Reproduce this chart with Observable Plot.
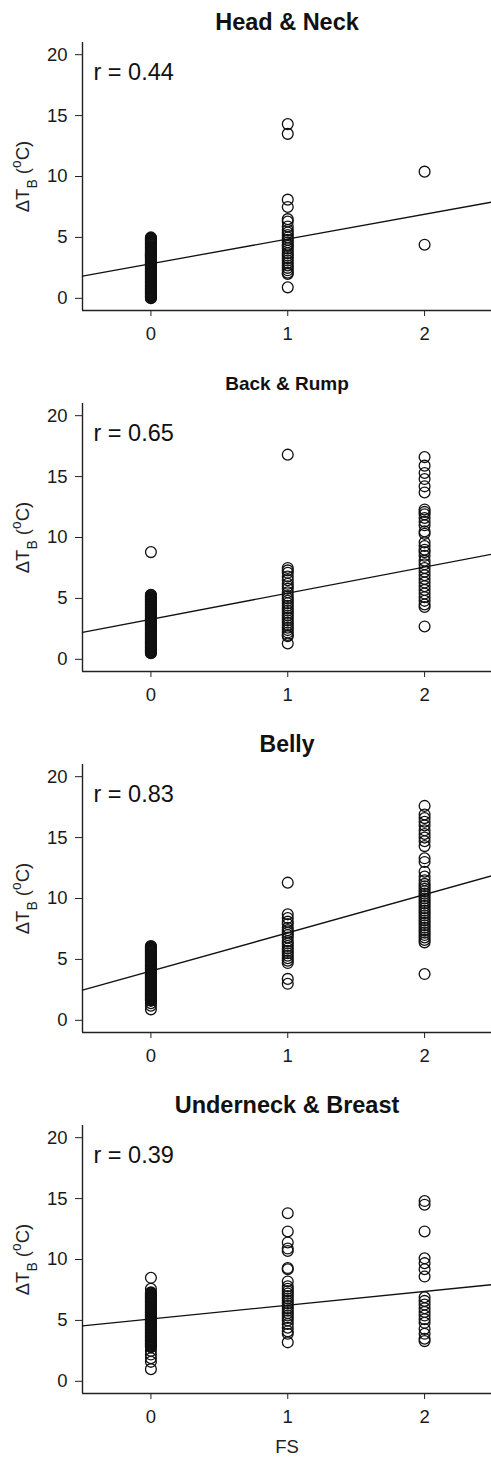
<!DOCTYPE html>
<html>
<head>
<meta charset="utf-8">
<script src="https://cdn.jsdelivr.net/npm/d3@7"></script>
<script src="https://cdn.jsdelivr.net/npm/@observablehq/plot@0.6"></script>
<style>
  body { margin: 0; background: #fff; }
  #chart svg { display: block; }
</style>
</head>
<body>
<div id="chart"></div>
<script>
// ---------- data ----------
const panelTitles = ["Head & Neck", "Back & Rump", "Belly", "Underneck & Breast"];
const rValues = ["0.44", "0.65", "0.83", "0.39"];
const xTicks = [0, 1, 2];
const yTicks = [0, 5, 10, 15, 20];
const xLabel = "FS";
const yLabel = "ΔTB (oC)";
const fitIntercepts = [2.84, 3.29, 4.04, 5.12];
const fitSlopes = [2.03, 2.14, 3.14, 1.13];

// Head & Neck, ΔTB values by FS level
const headNeck0 = [0,0.05,0.1,0.15,0.2,0.25,0.3,0.35,0.4,0.45,0.5,0.55,0.6,0.65,0.7,0.75,0.8,0.85,0.9,0.95,1,1.05,1.1,1.15,1.2,1.25,1.3,1.35,1.4,1.45,1.5,1.55,1.6,1.65,1.7,1.75,1.8,1.85,1.9,1.95,2,2.05,2.1,2.15,2.2,2.25,2.3,2.35,2.4,2.45,2.5,2.55,2.6,2.65,2.7,2.75,2.8,2.85,2.9,2.95,3,3.05,3.1,3.15,3.2,3.25,3.3,3.35,3.4,3.45,3.5,3.55,3.6,3.65,3.7,3.75,3.8,3.85,3.9,3.95,4,4.05,4.1,4.15,4.2,4.25,4.3,4.35,4.4,4.45,4.5,4.55,4.6,4.65,4.7,4.75,4.8,4.85,4.9,4.95,5];
const headNeck1 = [14.3,13.5,8.1,7.5,6.5,6.3,5.9,5.6,5.4,5.2,5.0,4.8,4.6,4.4,4.3,4.1,3.9,3.7,3.5,3.3,3.1,2.9,2.7,2.5,2.3,2.1,2.0,0.9];
const headNeck2 = [10.4,4.4];

// Back & Rump
const backRump0 = [0.5,0.55,0.6,0.65,0.7,0.75,0.8,0.85,0.9,0.95,1,1.05,1.1,1.15,1.2,1.25,1.3,1.35,1.4,1.45,1.5,1.55,1.6,1.65,1.7,1.75,1.8,1.85,1.9,1.95,2,2.05,2.1,2.15,2.2,2.25,2.3,2.35,2.4,2.45,2.5,2.55,2.6,2.65,2.7,2.75,2.8,2.85,2.9,2.95,3,3.05,3.1,3.15,3.2,3.25,3.3,3.35,3.4,3.45,3.5,3.55,3.6,3.65,3.7,3.75,3.8,3.85,3.9,3.95,4,4.05,4.1,4.15,4.2,4.25,4.3,4.35,4.4,4.45,4.5,4.55,4.6,4.65,4.7,4.75,4.8,4.85,4.9,4.95,5,5.05,5.1,5.15,5.2,5.25,5.3,8.8];
const backRump1 = [16.8,7.5,7.3,7.1,6.8,6.5,6.2,6.0,5.8,5.5,5.2,5.0,4.8,4.6,4.4,4.2,4.0,3.8,3.6,3.4,3.2,3.0,2.8,2.6,2.4,2.2,2.0,1.9,1.3];
const backRump2 = [16.6,15.9,15.3,14.8,14.2,13.7,12.3,12.1,11.9,11.6,11.3,11.0,10.5,10.3,9.6,9.3,9.0,8.8,8.5,8.1,7.8,7.5,7.2,6.9,6.6,6.3,6.0,5.7,5.4,5.1,4.8,4.5,4.3,2.7];

// Belly
const belly0 = [0.9,1.2,1.4,1.6,1.65,1.7,1.75,1.8,1.85,1.9,1.95,2,2.05,2.1,2.15,2.2,2.25,2.3,2.35,2.4,2.45,2.5,2.55,2.6,2.65,2.7,2.75,2.8,2.85,2.9,2.95,3,3.05,3.1,3.15,3.2,3.25,3.3,3.35,3.4,3.45,3.5,3.55,3.6,3.65,3.7,3.75,3.8,3.85,3.9,3.95,4,4.05,4.1,4.15,4.2,4.25,4.3,4.35,4.4,4.45,4.5,4.55,4.6,4.65,4.7,4.75,4.8,4.85,4.9,4.95,5,5.05,5.1,5.15,5.2,5.25,5.3,5.35,5.4,5.45,5.5,5.55,5.6,5.65,5.7,5.75,5.8,5.85,5.9,5.95,6,6.05,6.1];
const belly1 = [11.3,8.7,8.4,8.1,7.9,7.6,7.4,7.2,7.0,6.8,6.5,6.3,6.1,5.9,5.7,5.5,5.3,5.1,4.9,4.7,3.4,3.0];
const belly2 = [17.6,16.9,16.6,16.3,16.0,15.6,15.3,15.0,14.7,14.3,13.3,13.0,12.2,11.8,11.5,11.2,11.0,10.8,10.6,10.4,10.2,10.0,9.8,9.6,9.4,9.2,9.0,8.8,8.6,8.4,8.2,8.0,7.8,7.6,7.4,7.2,7.0,6.8,6.6,6.4,3.8];

// Underneck & Breast
const underneck0 = [1.0,1.6,1.9,2.2,2.5,2.8,2.85,2.9,2.95,3,3.05,3.1,3.15,3.2,3.25,3.3,3.35,3.4,3.45,3.5,3.55,3.6,3.65,3.7,3.75,3.8,3.85,3.9,3.95,4,4.05,4.1,4.15,4.2,4.25,4.3,4.35,4.4,4.45,4.5,4.55,4.6,4.65,4.7,4.75,4.8,4.85,4.9,4.95,5,5.05,5.1,5.15,5.2,5.25,5.3,5.35,5.4,5.45,5.5,5.55,5.6,5.65,5.7,5.75,5.8,5.85,5.9,5.95,6,6.05,6.1,6.15,6.2,6.25,6.3,6.35,6.4,6.45,6.5,6.55,6.6,6.65,6.7,6.75,6.8,6.85,6.9,6.95,7,7.05,7.1,7.15,7.2,7.25,7.3,7.6,8.5];
const underneck1 = [13.8,12.3,11.4,10.9,10.7,9.3,9.2,8.2,7.8,7.6,7.4,7.2,7.0,6.8,6.6,6.4,6.2,6.0,5.8,5.6,5.4,5.2,5.0,4.7,4.4,4.1,3.9,3.2];
const underneck2 = [14.8,14.5,12.3,10.1,9.7,9.2,8.6,6.9,6.6,6.3,6.0,5.7,5.4,5.1,4.8,4.3,3.9,3.5,3.3];

const panelSeries = [
  [headNeck0, headNeck1, headNeck2],
  [backRump0, backRump1, backRump2],
  [belly0, belly1, belly2],
  [underneck0, underneck1, underneck2]
];

// ---------- style / layout config ----------
const titleSizes = [23.5, 19, 23, 23.5];
const font = "'Liberation Sans', Arial, Helvetica, sans-serif";
const xDomain = [-0.5, 2.5];
const yDomain = [-1, 21];

const chart = document.getElementById("chart");

panelSeries.forEach((series, i) => {
  const last = i === panelSeries.length - 1;
  const points = [];
  series.forEach((vals, level) => vals.forEach(v => points.push({fs: xTicks[level], dt: v})));
  const fit = xDomain.map(x => ({fs: x, dt: fitIntercepts[i] + fitSlopes[i] * x}));

  const svg = Plot.plot({
    width: 491,
    height: last ? 374 : 361,
    marginTop: 42,
    marginBottom: last ? 64 : 51,
    marginLeft: 82,
    marginRight: 0,
    x: {domain: xDomain, range: [82, 492.5]},
    y: {domain: yDomain},
    style: {fontFamily: font, fontSize: "18px", color: "#1a1a1a", background: "#fff", overflow: "visible"},
    marks: [
      Plot.axisX(xTicks, {tickSize: 6, tickPadding: 10, fontSize: 18.5, label: null, stroke: "#222", tickFormat: d3.format("d")}),
      Plot.axisY(yTicks, {tickSize: 7, tickPadding: 8, fontSize: 18.5, label: null, stroke: "#222", tickFormat: d3.format("d")}),
      Plot.ruleX([xDomain[0]], {stroke: "#222", strokeWidth: 1.4}),
      Plot.ruleY([yDomain[0]], {stroke: "#222", strokeWidth: 1.4}),
      Plot.line(fit, {x: "fs", y: "dt", stroke: "#111", strokeWidth: 1.3}),
      Plot.dot(points, {x: "fs", y: "dt", r: 5.4, stroke: "#111", strokeWidth: 1.3, fill: "none"}),
      Plot.text([panelTitles[i]], {text: d => d, frameAnchor: "top", dy: -20, lineAnchor: "middle", fontWeight: "bold", fontSize: titleSizes[i], fill: "#111"}),
      Plot.text([`r = ${rValues[i]}`], {text: d => d, frameAnchor: "top-left", textAnchor: "start", lineAnchor: "bottom", dx: 11, dy: 37, fontSize: 23.5, fill: "#111"}),
      Plot.text([yLabel], {text: d => d, frameAnchor: "left", rotate: -90, dx: -59, lineAnchor: "middle", textAnchor: "middle", fontSize: 18.5, fill: "#222"}),
      last ? Plot.text([xLabel], {text: d => d, frameAnchor: "bottom", dy: 54, lineAnchor: "middle", fontSize: 18.5, fill: "#222"}) : null
    ]
  });

  // subscript B and superscript o in the y-axis label
  d3.select(svg).selectAll("text").filter(function () { return this.textContent === yLabel; }).each(function () {
    const t = d3.select(this);
    t.text(null);
    t.append("tspan").text("ΔT");
    t.append("tspan").attr("baseline-shift", "sub").attr("font-size", "75%").text("B");
    t.append("tspan").text(" (");
    t.append("tspan").attr("baseline-shift", "super").attr("font-size", "75%").text("o");
    t.append("tspan").text("C)");
  });

  chart.appendChild(svg);
});
</script>
</body>
</html>
